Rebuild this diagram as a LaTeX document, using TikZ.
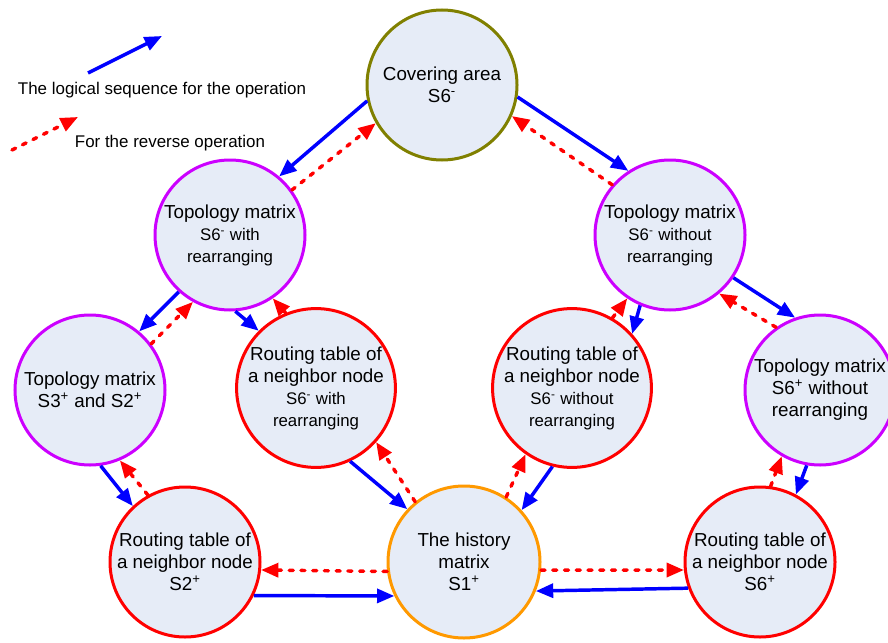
\documentclass[tikz,border=0pt]{standalone}
\usepackage{fontspec}
\setmainfont{Liberation Sans}
\usetikzlibrary{arrows.meta}
\definecolor{CircleFill}{RGB}{230,236,247}
\definecolor{OliveRing}{RGB}{128,128,0}
\definecolor{VioletRing}{RGB}{204,0,255}
\definecolor{RedRing}{RGB}{255,0,0}
\definecolor{OrangeRing}{RGB}{255,153,0}
\definecolor{SeqBlue}{RGB}{0,0,255}
\definecolor{RevRed}{RGB}{255,0,0}
\newcommand{\subtxt}{\fontsize{12.6}{15}\selectfont}
\newcommand{\legtxt}{\fontsize{12.7}{15}\selectfont}

\begin{document}
\begin{tikzpicture}[x=0.75pt, y=-0.75pt,
    font=\fontsize{14.1}{16.5}\selectfont,
    state/.style={circle, draw=#1, line width=2.25pt, fill=CircleFill,
        minimum size=112.5pt, inner sep=0pt, align=center},
    seq/.style={SeqBlue, line width=2.6pt, -{Triangle[length=13pt,width=10.5pt]}},
    rev/.style={RevRed, line width=2.6pt, line cap=round,
        dash pattern=on 3pt off 5.8pt, -{Triangle[length=13pt,width=10.5pt]}}]

\useasboundingbox (0,0) rectangle (888,642);
\clip (0,0) rectangle (888,642);

% legende
\coordinate (seqTail) at (88,73);
\coordinate (seqTip) at (162,36);
\draw[seq] (seqTail) -- (seqTip);
\node[anchor=base, font=\legtxt] (seqLbl) at (162,94) {The logical sequence for the operation};
\coordinate (revTail) at (12,150);
\coordinate (revTip) at (78,117);
\draw[rev] (revTail) -- (revTip);
\node[anchor=base, font=\legtxt] (revLbl) at (170,147) {For the reverse operation};

% kreise
\node[state=OliveRing] (cover) at (442,85) {Covering area\\S6\textsuperscript{-}};
\node[state=VioletRing] (topoA) at (230,235)
    {Topology matrix\\{\subtxt S6\textsuperscript{-} with}\\{\subtxt rearranging}};
\node[state=VioletRing] (topoB) at (670,235)
    {Topology matrix\\{\subtxt S6\textsuperscript{-} without}\\{\subtxt rearranging}};
\node[state=VioletRing] (topoC) at (90,390)
    {Topology matrix\\S3\textsuperscript{+} and S2\textsuperscript{+}};
\node[state=VioletRing] (topoD) at (820,390)
    {Topology matrix\\S6\textsuperscript{+} without\\rearranging};
\node[state=RedRing] (routeA) at (316,388)
    {Routing table of\\a neighbor node\\{\subtxt S6\textsuperscript{-} with}\\{\subtxt rearranging}};
\node[state=RedRing] (routeB) at (572,388)
    {Routing table of\\a neighbor node\\{\subtxt S6\textsuperscript{-} without}\\{\subtxt rearranging}};
\node[state=RedRing] (routeC) at (185,562)
    {Routing table of\\a neighbor node\\S2\textsuperscript{+}};
\node[state=OrangeRing, minimum size=114pt] (hist) at (464,562)
    {The history\\matrix\\S1\textsuperscript{+}};
\node[state=RedRing] (routeD) at (760,562)
    {Routing table of\\a neighbor node\\S6\textsuperscript{+}};

% logische reihenfolge
\foreach \a/\p/\b/\q in {cover/192/topoA/50, cover/351/topoB/123,
    topoA/228/topoC/50, topoA/274/routeA/135, topoC/278/routeC/133,
    routeA/295/hist/137, routeB/256/hist/42, topoB/247/routeB/42,
    topoB/326/topoD/109, topoD/260/routeD/62,
    routeC/334/hist/206, routeD/200/hist/338}
    \draw[seq] (\a.\p) -- (\b.\q);

% umgekehrte operation
\foreach \a/\p/\b/\q in {topoA/36/cover/210, topoB/139/cover/336,
    topoC/37/topoA/241, routeA/112/topoA/304, routeC/119/topoC/293,
    hist/129/routeA/318, hist/57/routeB/235, routeB/60/topoB/236,
    topoD/125/topoB/310, routeD/82/topoD/240,
    hist/187/routeC/354, hist/354/routeD/186}
    \draw[rev] (\a.\p) -- (\b.\q);

\end{tikzpicture}
\end{document}
